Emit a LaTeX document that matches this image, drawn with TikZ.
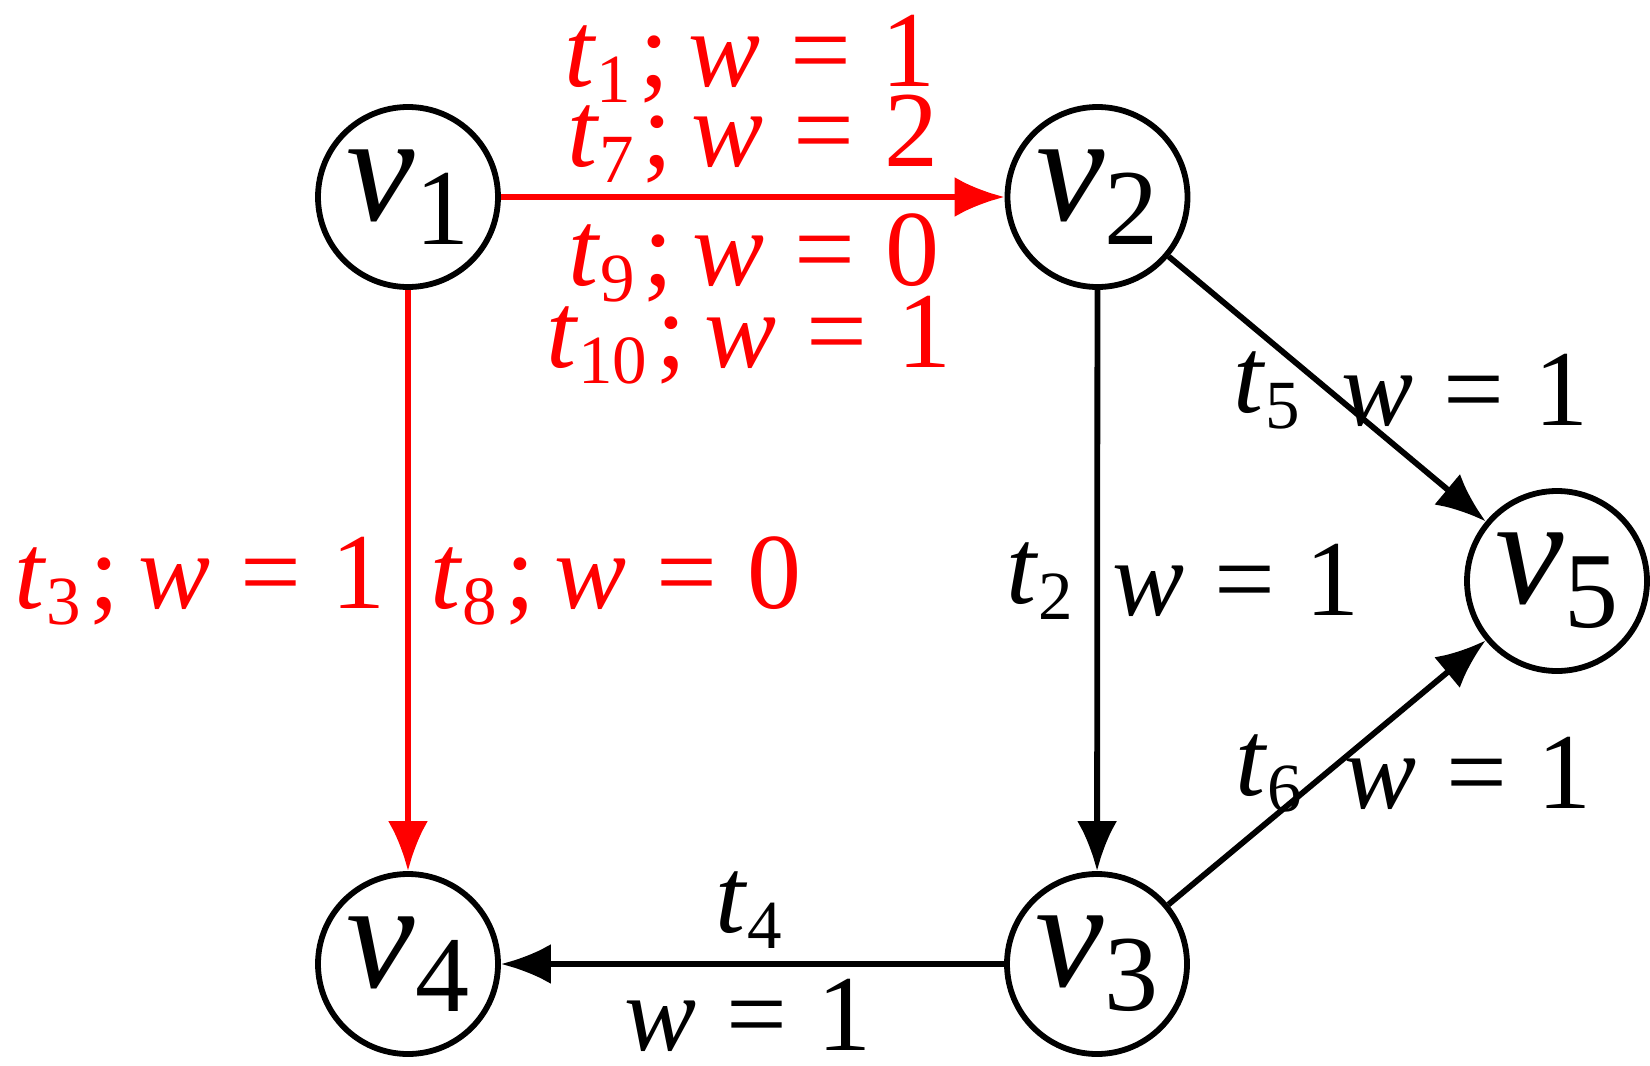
\documentclass[tikz,border=0pt]{standalone}
\usepackage{fontspec}
\setmainfont{Liberation Serif}
\usetikzlibrary{arrows.meta}
\newcommand{\vlab}[1]{{\fontsize{77}{77}\selectfont\itshape v\/}\raisebox{-12pt}{\fontsize{54}{54}\selectfont #1}}
\newcommand{\tlab}[1]{\textit{t}\raisebox{-8pt}{\fontsize{34.5}{34.5}\selectfont #1}}
\newcommand{\weq}[1]{\textit{w}\hspace{0.28em}=\hspace{0.28em}#1}
\newcommand{\semi}{\hspace{0.08em};\hspace{0.17em}}
\begin{document}
\begin{tikzpicture}[x=0.5pt,y=-0.5pt,
  vert/.style={circle,draw,line width=2.9pt,minimum size=90pt,inner sep=0pt},
  lab/.style={anchor=base,inner sep=0pt,font=\fontsize{54}{54}\selectfont},
  conn/.style={line width=2.9pt,-{Latex[length=25pt,width=20pt]}},
  hl/.style={red}]
\useasboundingbox (0,0) rectangle (1650,1066);
% vertices
\node[vert] (v1) at (408,197) {\vlab{1}};
\node[vert] (v2) at (1097.5,197) {\vlab{2}};
\node[vert] (v5) at (1557,581) {\vlab{5}};
\node[vert] (v4) at (408,964) {\vlab{4}};
\node[vert] (v3) at (1097,964) {\vlab{3}};
% connectors
\draw[conn,hl] (v1) -- (v2);
\draw[conn,hl] (v1) -- (v4);
\draw[conn] (v2) -- (v3);
\draw[conn] (v2) -- (v5);
\draw[conn] (v3) -- (v5);
\draw[conn] (v3) -- (v4);
% labels
\node[lab,hl] (l1) at (750,86) {\tlab{1}\semi\weq{1}};
\node[lab,hl] (l7) at (753,166) {\tlab{7}\semi\weq{2}};
\node[lab,hl] (l9) at (754,285) {\tlab{9}\semi\weq{0}};
\node[lab,hl] (l10) at (749,367) {\tlab{10}\semi\weq{1}};
\node[lab,hl] (l3) at (200,608) {\tlab{3}\semi\weq{1}};
\node[lab,hl] (l8) at (616,608) {\tlab{8}\semi\weq{0}};
\node[lab] (l2) at (1040,603) {\tlab{2}};
\node[lab] (w2) at (1236,615) {\weq{1}};
\node[lab] (l5) at (1267,412) {\tlab{5}};
\node[lab] (w5) at (1465,425) {\weq{1}};
\node[lab] (l6) at (1269,795) {\tlab{6}};
\node[lab] (w6) at (1468,808) {\weq{1}};
\node[lab] (l4) at (749,932) {\tlab{4}};
\node[lab] (w4) at (748,1050) {\weq{1}};
\end{tikzpicture}
\end{document}
